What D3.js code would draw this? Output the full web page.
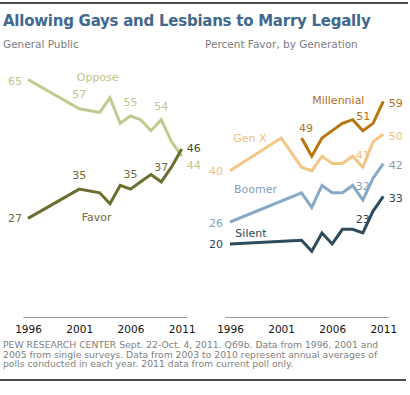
<!DOCTYPE html>
<html>
<head>
<meta charset="utf-8">
<script src="https://cdn.jsdelivr.net/npm/d3@7"></script>
<style>
  body { margin: 0; background: #fff; }
  text { font-family: Tahoma, "DejaVu Sans", sans-serif; }
</style>
</head>
<body>
<script>
// survey years (2002 was not asked)
var years = [1996, 2001, 2003, 2004, 2005, 2006, 2007, 2008, 2009, 2010, 2011];
var tickYears = [1996, 2001, 2006, 2011];

// general public
var oppose = [65, 57, 56, 60, 53, 55, 54, 51, 54, 48, 44];
var favor  = [27, 35, 34, 31, 36, 35, 37, 39, 37, 41, 46];

// percent favor by generation (null = no data point)
var millennial = [null, null, 49, 44, 49, 51, 53, 54, 51, 53, 59];
var genX       = [40, 49, 41, 40, 44, 42, 42, 44, 41, 48, 50];
var boomer     = [26, null, 34, 30, 36, 34, 34, 36, 32, 38, 42];
var silent     = [20, null, 21, 18, 23, 20, 24, 24, 23, 29, 33];

var footNote = [
  "PEW RESEARCH  CENTER Sept. 22-Oct. 4, 2011. Q69b. Data from 1996, 2001 and",
  "2005 from single surveys. Data from 2003 to 2010 represent annual averages of",
  "polls conducted in each year. 2011 data from current poll only."
];

var width = 410, height = 395;

var svg = d3.select("body").append("svg")
  .attr("width", width)
  .attr("height", height);

// both panels share one vertical scale, 0 sits on the axis line
var y = d3.scaleLinear().domain([0, 65]).range([317, 79.5]);
var xL = d3.scaleLinear().domain([1996, 2011]).range([28, 181.7]);
var xR = d3.scaleLinear().domain([1996, 2011]).range([230, 383.3]);

// rules top and bottom
svg.append("line").attr("x1", 0).attr("x2", 408).attr("y1", 3).attr("y2", 3)
  .attr("stroke", "#111").attr("stroke-width", 1.6);
svg.append("line").attr("x1", 0).attr("x2", 406).attr("y1", 380).attr("y2", 380)
  .attr("stroke", "#111").attr("stroke-width", 1.6);

svg.append("text")
  .attr("x", 3).attr("y", 26)
  .attr("font-size", 15).attr("font-weight", "bold")
  .attr("letter-spacing", -0.25)
  .attr("fill", "#41688e")
  .text("Allowing Gays and Lesbians to Marry Legally");

svg.append("text").attr("x", 3).attr("y", 48)
  .attr("font-size", 10.5).attr("fill", "#7d7d85")
  .text("General Public");
svg.append("text").attr("x", 205).attr("y", 48)
  .attr("font-size", 10.5).attr("fill", "#7d7d85")
  .text("Percent Favor, by Generation");

// axes
function drawAxis(x) {
  var ax = x.copy().domain([1995.5, 2011.5]).range([x(1995.5), x(2011.5)]);
  var g = svg.append("g")
    .attr("transform", "translate(0,317)")
    .call(d3.axisBottom(ax).tickValues(tickYears).tickFormat(d3.format("d"))
      .tickSizeInner(0).tickSizeOuter(0).tickPadding(9));
  g.select(".domain").attr("stroke", "#999").attr("stroke-width", 1);
  g.selectAll("text").attr("font-family", null).attr("font-size", 10.5).attr("fill", "#111");
}
drawAxis(xL);
drawAxis(xR);

function series(vals) {
  return years.map(function(yr, i) { return {year: yr, value: vals[i]}; })
    .filter(function(d) { return d.value != null; });
}

function drawLine(x, vals, color) {
  var line = d3.line()
    .x(function(d) { return x(d.year); })
    .y(function(d) { return y(d.value); });
  svg.append("path")
    .datum(series(vals))
    .attr("fill", "none")
    .attr("stroke", color)
    .attr("stroke-width", 3)
    .attr("d", line);
}

drawLine(xL, oppose, "#c4c88e");
drawLine(xL, favor, "#6c6e2f");

drawLine(xR, silent, "#2e4a5d");
drawLine(xR, boomer, "#88a9c6");
drawLine(xR, genX, "#f4c683");
drawLine(xR, millennial, "#b97511");

// value labels, tied to the point they annotate
function label(x, year, value, txt, color, anchor, dx, dy) {
  svg.append("text")
    .attr("x", x(year) + dx)
    .attr("y", y(value) + dy)
    .attr("text-anchor", anchor)
    .attr("font-size", 11)
    .attr("fill", color)
    .text(txt);
}

var cOpp = "#c2c38b", cFav = "#72693a";
label(xL, 1996, 65, "65", cOpp, "end", -6, 5);
label(xL, 2001, 57, "57", cOpp, "middle", 0, -10.5);
label(xL, 2006, 55, "55", cOpp, "middle", 0, -10);
label(xL, 2009, 54, "54", cOpp, "middle", 0, -9.5);
label(xL, 2011, 44, "44", cOpp, "start", 5, 13);
label(xL, 2002.8, 64.6, "Oppose", cOpp, "middle", 0, 0);

label(xL, 1996, 27, "27", cFav, "end", -6, 4);
label(xL, 2001, 35, "35", cFav, "middle", 0, -10);
label(xL, 2006, 35, "35", cFav, "middle", 0, -11);
label(xL, 2009, 37, "37", cFav, "middle", 0, -11);
label(xL, 2011, 46, "46", "#4b4b30", "start", 5, 3);
label(xL, 2002.7, 26.3, "Favor", cFav, "middle", 0, 0);

var cMil = "#b66f1c", cGx = "#f0c07e", cBo = "#7f9fbd", cSi = "#2e4556";
label(xR, 2011, 59, "59", cMil, "start", 5.5, 5.5);
label(xR, 2003, 49, "49", cMil, "middle", 4.5, -6);
label(xR, 2009, 51, "51", cMil, "middle", 0.5, -10.5);
label(xR, 2006.6, 58.3, "Millennial", cMil, "middle", 0, 0);

label(xR, 2011, 50, "50", cGx, "start", 5.5, 5.5);
label(xR, 1996, 40, "40", cGx, "end", -7, 4.5);
label(xR, 2009, 41, "41", cGx, "middle", 0, -8);
label(xR, 1997.95, 47.9, "Gen X", cGx, "middle", 0, 0);

label(xR, 2011, 42, "42", cBo, "start", 5.5, 5.5);
label(xR, 1996, 26, "26", cBo, "end", -7, 5);
label(xR, 2009, 32, "32", cBo, "middle", 0, -10);
label(xR, 1998.5, 33.9, "Boomer", cBo, "middle", 0, 0);

label(xR, 2011, 33, "33", cSi, "start", 5.5, 5.5);
label(xR, 1996, 20, "20", cSi, "end", -7, 4);
label(xR, 2009, 23, "23", cSi, "middle", 0, -10);
label(xR, 1998.05, 21.9, "Silent", cSi, "middle", 0, 0);

svg.append("g").selectAll("text")
  .data(footNote)
  .enter().append("text")
  .attr("x", 3)
  .attr("y", function(d, i) { return 348 + i * 9.7; })
  .attr("font-size", 9.25)
  .attr("fill", "#808080")
  .text(function(d) { return d; });
</script>
</body>
</html>
